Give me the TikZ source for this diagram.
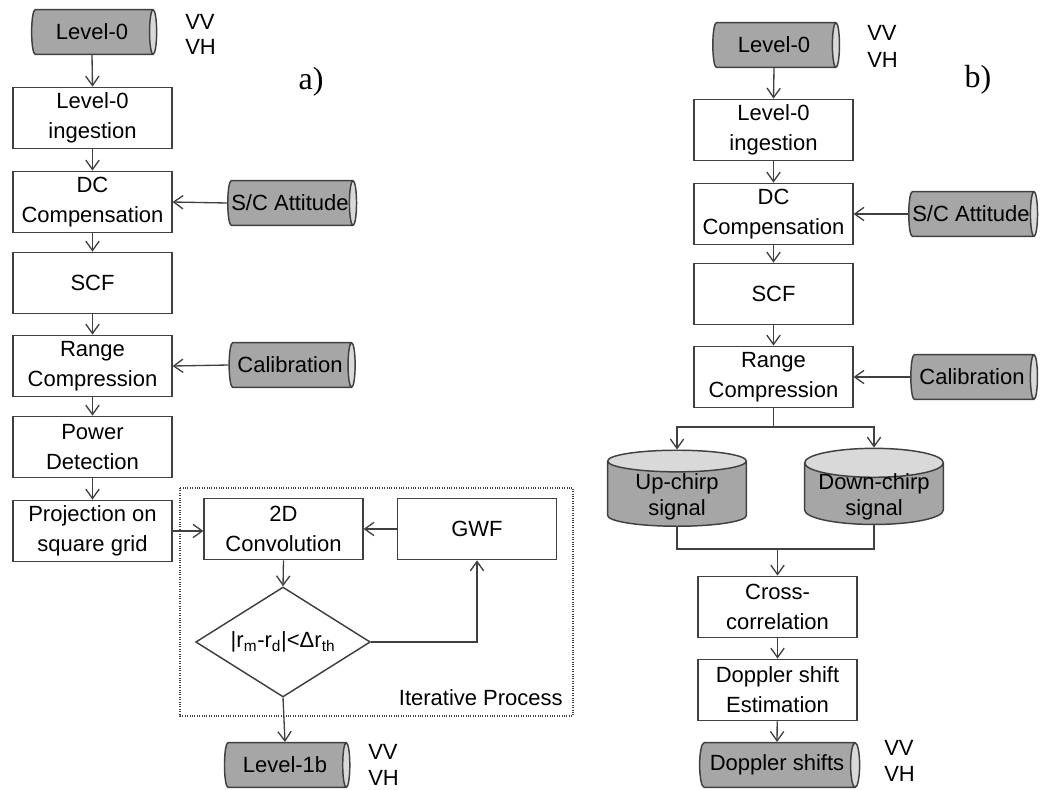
\documentclass[tikz,border=0pt]{standalone}
\usepackage{fontspec}
\setmainfont{Liberation Sans}
\newfontfamily\panelfont{Liberation Serif}
\usetikzlibrary{shapes.geometric,arrows.meta}

\definecolor{edgegray}{RGB}{64,64,64}
\definecolor{bodygray}{RGB}{166,166,166}
\definecolor{capgray}{RGB}{217,217,217}
\newcommand{\boxfont}{\fontsize{16.5}{22.5}\selectfont}
% text set lower in the body of an upright cylinder
\newcommand{\lowtext}[1]{\raisebox{-7pt}[12pt][12pt]{\fontsize{16.5}{19.5}\selectfont\begin{tabular}{@{}c@{}}#1\end{tabular}}}

\tikzset{
  proc/.style={draw=edgegray, line width=1.1pt, fill=white, minimum width=119pt, minimum height=46pt, inner sep=1pt, align=center, font=\boxfont},
  store/.style={cylinder, draw=edgegray, line width=1.1pt, cylinder uses custom fill, cylinder body fill=bodygray, cylinder end fill=capgray, aspect=0.44, inner sep=0pt, minimum width=33.5pt, font=\boxfont},
  vstore/.style={cylinder, shape border rotate=90, draw=edgegray, line width=1.1pt, cylinder uses custom fill, cylinder body fill=bodygray, cylinder end fill=capgray, aspect=0.26, inner sep=0pt, minimum width=104pt, minimum height=57pt, font=\boxfont},
  test/.style={diamond, draw=edgegray, line width=1.1pt, minimum width=131pt, minimum height=82.5pt, aspect=1.6, inner sep=0pt, font=\boxfont},
  flow/.style={draw=edgegray, line width=1pt, -{Straight Barb[length=7pt,width=10pt]}},
  link/.style={draw=edgegray, line width=1pt},
  pol/.style={inner sep=0pt, anchor=west, font=\boxfont},
}

\begin{document}
\begin{tikzpicture}[x=0.75pt,y=0.75pt,yscale=-1,xscale=1]
    \useasboundingbox (0,0) rectangle (1042,789);

    % ---------- a) ----------
    \node[store, minimum height=93.75pt] (lvlza) at (92,32) {Level-0};
    \node[pol] (vva) at (185,22) {VV};
    \node[pol] (vha) at (185,47) {VH};
    \node[font=\panelfont\fontsize{24}{28}\selectfont, inner sep=0pt] (pana) at (311,82) {a)};

    \node[proc] (ingesta) at (92.5,118) {Level-0\\ingestion};
    \node[proc] (dca) at (92.5,202) {DC\\Compensation};
    \node[proc] (scfa) at (92.5,283) {SCF};
    \node[proc] (rca) at (92.5,366) {Range\\Compression};
    \node[proc] (pda) at (92.5,447) {Power\\Detection};
    \node[proc] (proja) at (92.5,531) {Projection on\\square grid};

    \node[store, minimum height=94.5pt] (atta) at (290,203) {S/C Attitude};
    \node[store, minimum height=94.5pt] (cala) at (290,365) {Calibration};

    % Iterative Process
    \draw[edgegray, line width=0.8pt, densely dotted] (180,488) rectangle (573,716);
    \node[font=\boxfont, inner sep=0pt, anchor=east] (iterlbl) at (563,698) {Iterative Process};
    \node[proc] (conv) at (283.5,529) {2D\\Convolution};
    \node[proc] (gwf) at (477,529) {GWF};
    \node[test] (chk) at (283,642) {|r\textsubscript{m}-r\textsubscript{d}|<Δr\textsubscript{th}};

    \node[store, minimum height=94pt] (lvlob) at (285,765) {Level-1b};
    \node[pol] (vvc) at (368,752) {VV};
    \node[pol] (vhc) at (368,778) {VH};

    \draw[flow] (lvlza.south) -- (ingesta.north);
    \draw[flow] (ingesta) -- (dca);
    \draw[flow] (atta.west) -- (dca.east);
    \draw[flow] (dca) -- (scfa);
    \draw[flow] (scfa) -- (rca);
    \draw[flow] (cala.west) -- (rca.east);
    \draw[flow] (rca) -- (pda);
    \draw[flow] (pda) -- (proja);
    \draw[flow] (proja.east) -- (proja.east -| conv.west);
    \draw[flow] (gwf.west) -- (conv.east);
    \draw[flow] (conv.south) -- (chk.north);
    \draw[flow] (chk.east) -| (gwf.south);
    \draw[flow] (chk.south) -- (lvlob.north);

    % ---------- b) ----------
    \node[store, minimum height=95pt] (lvlzb) at (774,45) {Level-0};
    \node[pol] (vvb) at (867,33) {VV};
    \node[pol] (vhb) at (867,60) {VH};
    \node[font=\panelfont\fontsize{24}{28}\selectfont, inner sep=0pt] (panb) at (978,80) {b)};

    \node[proc] (ingestb) at (773.5,130) {Level-0\\ingestion};
    \node[proc] (dcb) at (773.5,214) {DC\\Compensation};
    \node[proc] (scfb) at (773.5,294) {SCF};
    \node[proc] (rcb) at (773.5,377) {Range\\Compression};

    \node[store, minimum height=94.5pt] (attb) at (971,214) {S/C Attitude};
    \node[store, minimum height=95pt] (calb) at (972,377) {Calibration};

    \node[vstore] (upc) at (677,494) {\lowtext{Up-chirp\\signal}};
    \node[vstore] (downc) at (874,494) {\lowtext{Down-chirp\\signal}};

    \node[proc] (xcorr) at (777.5,607) {Cross-\\correlation};
    \node[proc] (dse) at (777.5,690) {Doppler shift\\Estimation};
    \node[store, minimum height=120pt] (dshift) at (777,765) {Doppler shifts};
    \node[pol] (vvd) at (884,748) {VV};
    \node[pol] (vhd) at (884,774) {VH};

    \coordinate (splitb) at (773.5,427);
    \coordinate (mergeb) at (777.5,549);

    \draw[flow] (lvlzb.south) -- (ingestb.north);
    \draw[flow] (ingestb) -- (dcb);
    \draw[flow] (attb.west) -- (dcb.east);
    \draw[flow] (dcb) -- (scfb);
    \draw[flow] (scfb) -- (rcb);
    \draw[flow] (calb.west) -- (rcb.east);
    \draw[link] (rcb.south) -- (splitb);
    \draw[flow] (splitb) -| (upc.north);
    \draw[flow] (splitb) -| (downc.north);
    \draw[link] (upc.south) |- (mergeb);
    \draw[link] (downc.south) |- (mergeb);
    \draw[flow] (mergeb) -- (xcorr.north);
    \draw[flow] (xcorr) -- (dse);
    \draw[flow] (dse) -- (dshift.north);

\end{tikzpicture}
\end{document}
